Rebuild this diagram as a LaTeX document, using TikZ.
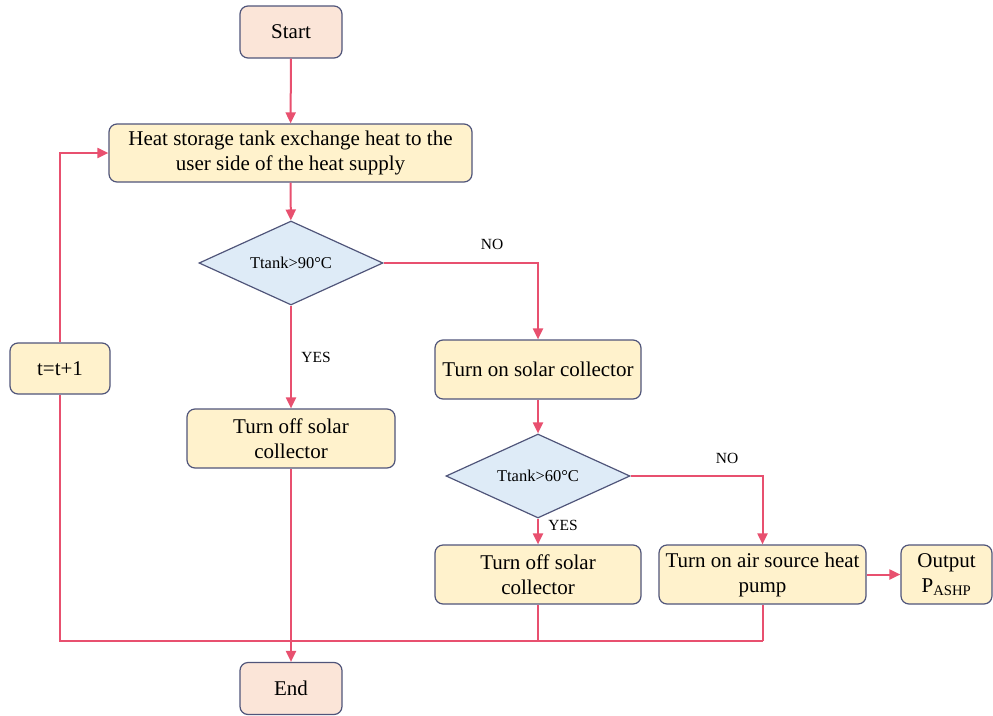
\documentclass[tikz,border=0pt]{standalone}
\usepackage{fontspec}
\setmainfont{Liberation Serif}
\usetikzlibrary{shapes.geometric,arrows.meta}
\definecolor{edgeblue}{HTML}{50557A}
\definecolor{termfill}{HTML}{FBE5D8}
\definecolor{procfill}{HTML}{FFF2CC}
\definecolor{decfill}{HTML}{DEEBF7}
\definecolor{flow}{HTML}{E8506F}
\tikzset{
  terminal/.style={draw=edgeblue, line width=1.2pt, fill=termfill, rounded corners=8pt,
    minimum width=102pt, minimum height=52pt, inner sep=2pt,
    font=\fontsize{21}{25}\selectfont},
  process/.style={draw=edgeblue, line width=1.2pt, fill=procfill, rounded corners=8pt,
    minimum height=59pt, inner sep=2pt, align=center,
    font=\fontsize{21}{25}\selectfont},
  decision/.style={diamond, shape aspect=2.2, draw=edgeblue, line width=1.2pt, fill=decfill,
    minimum width=184pt, minimum height=84pt, inner sep=0pt,
    font=\fontsize{16.5}{20}\selectfont},
  lbl/.style={font=\fontsize{15.5}{18}\selectfont},
  link/.style={draw=flow, line width=2pt},
  arr/.style={link, -{Triangle[length=11pt,width=10pt]}}
}
\begin{document}
\begin{tikzpicture}[x=1pt,y=-1pt]
\useasboundingbox (0,0) rectangle (993,715);

% boxes
\node[terminal] (start) at (291,32) {Start};
\node[process, minimum width=363pt, minimum height=58pt] (heat) at (290.5,153)
  {Heat storage tank exchange heat to the\\user side of the heat supply};
\node[decision] (d1) at (291,263) {Ttank>90°C};
\node[process, minimum width=208pt] (off1) at (291,438.5) {Turn off solar\\collector};
\node[process, minimum width=206pt] (on) at (538,369.5) {Turn on solar collector};
\node[decision] (d2) at (538,476) {Ttank>60°C};
\node[process, minimum width=206pt] (off2) at (538,574.5) {Turn off solar\\collector};
\node[process, minimum width=207pt] (ashp) at (762.5,574.5) {Turn on air source heat\\pump};
\node[process, minimum width=91pt] (out) at (946.5,574.5) {Output\\P\textsubscript{ASHP}};
\node[process, minimum width=100pt, minimum height=51pt] (tinc) at (60,368.5) {t=t+1};
\node[terminal] (end) at (291,688.5) {End};

% branch labels
\node[lbl] (no1) at (492,244) {NO};
\node[lbl] (yes1) at (316,357) {YES};
\node[lbl] (no2) at (727,458) {NO};
\node[lbl] (yes2) at (563,525) {YES};

% merge line along the bottom
\coordinate (jl) at (60,641);
\coordinate (jr) at (762.5,641);

% flow
\draw[arr] (start) -- (heat);
\draw[arr] (heat) -- (d1);
\draw[arr] (d1.east) -| (on.north);
\draw[arr] (d1.south) -- (off1.north);
\draw[arr] (on) -- (d2);
\draw[arr] (d2.east) -| (ashp.north);
\draw[arr] (d2.south) -- (off2.north);
\draw[arr] (ashp) -- (out);
\draw[arr] (off1) -- (end);
\draw[link] (off2.south) -- (off2.south |- jl);
\draw[link] (ashp.south) -- (jr);
\draw[link] (jr) -- (jl) -- (tinc.south);
\draw[arr] (tinc.north) |- (heat.west);
\end{tikzpicture}
\end{document}
